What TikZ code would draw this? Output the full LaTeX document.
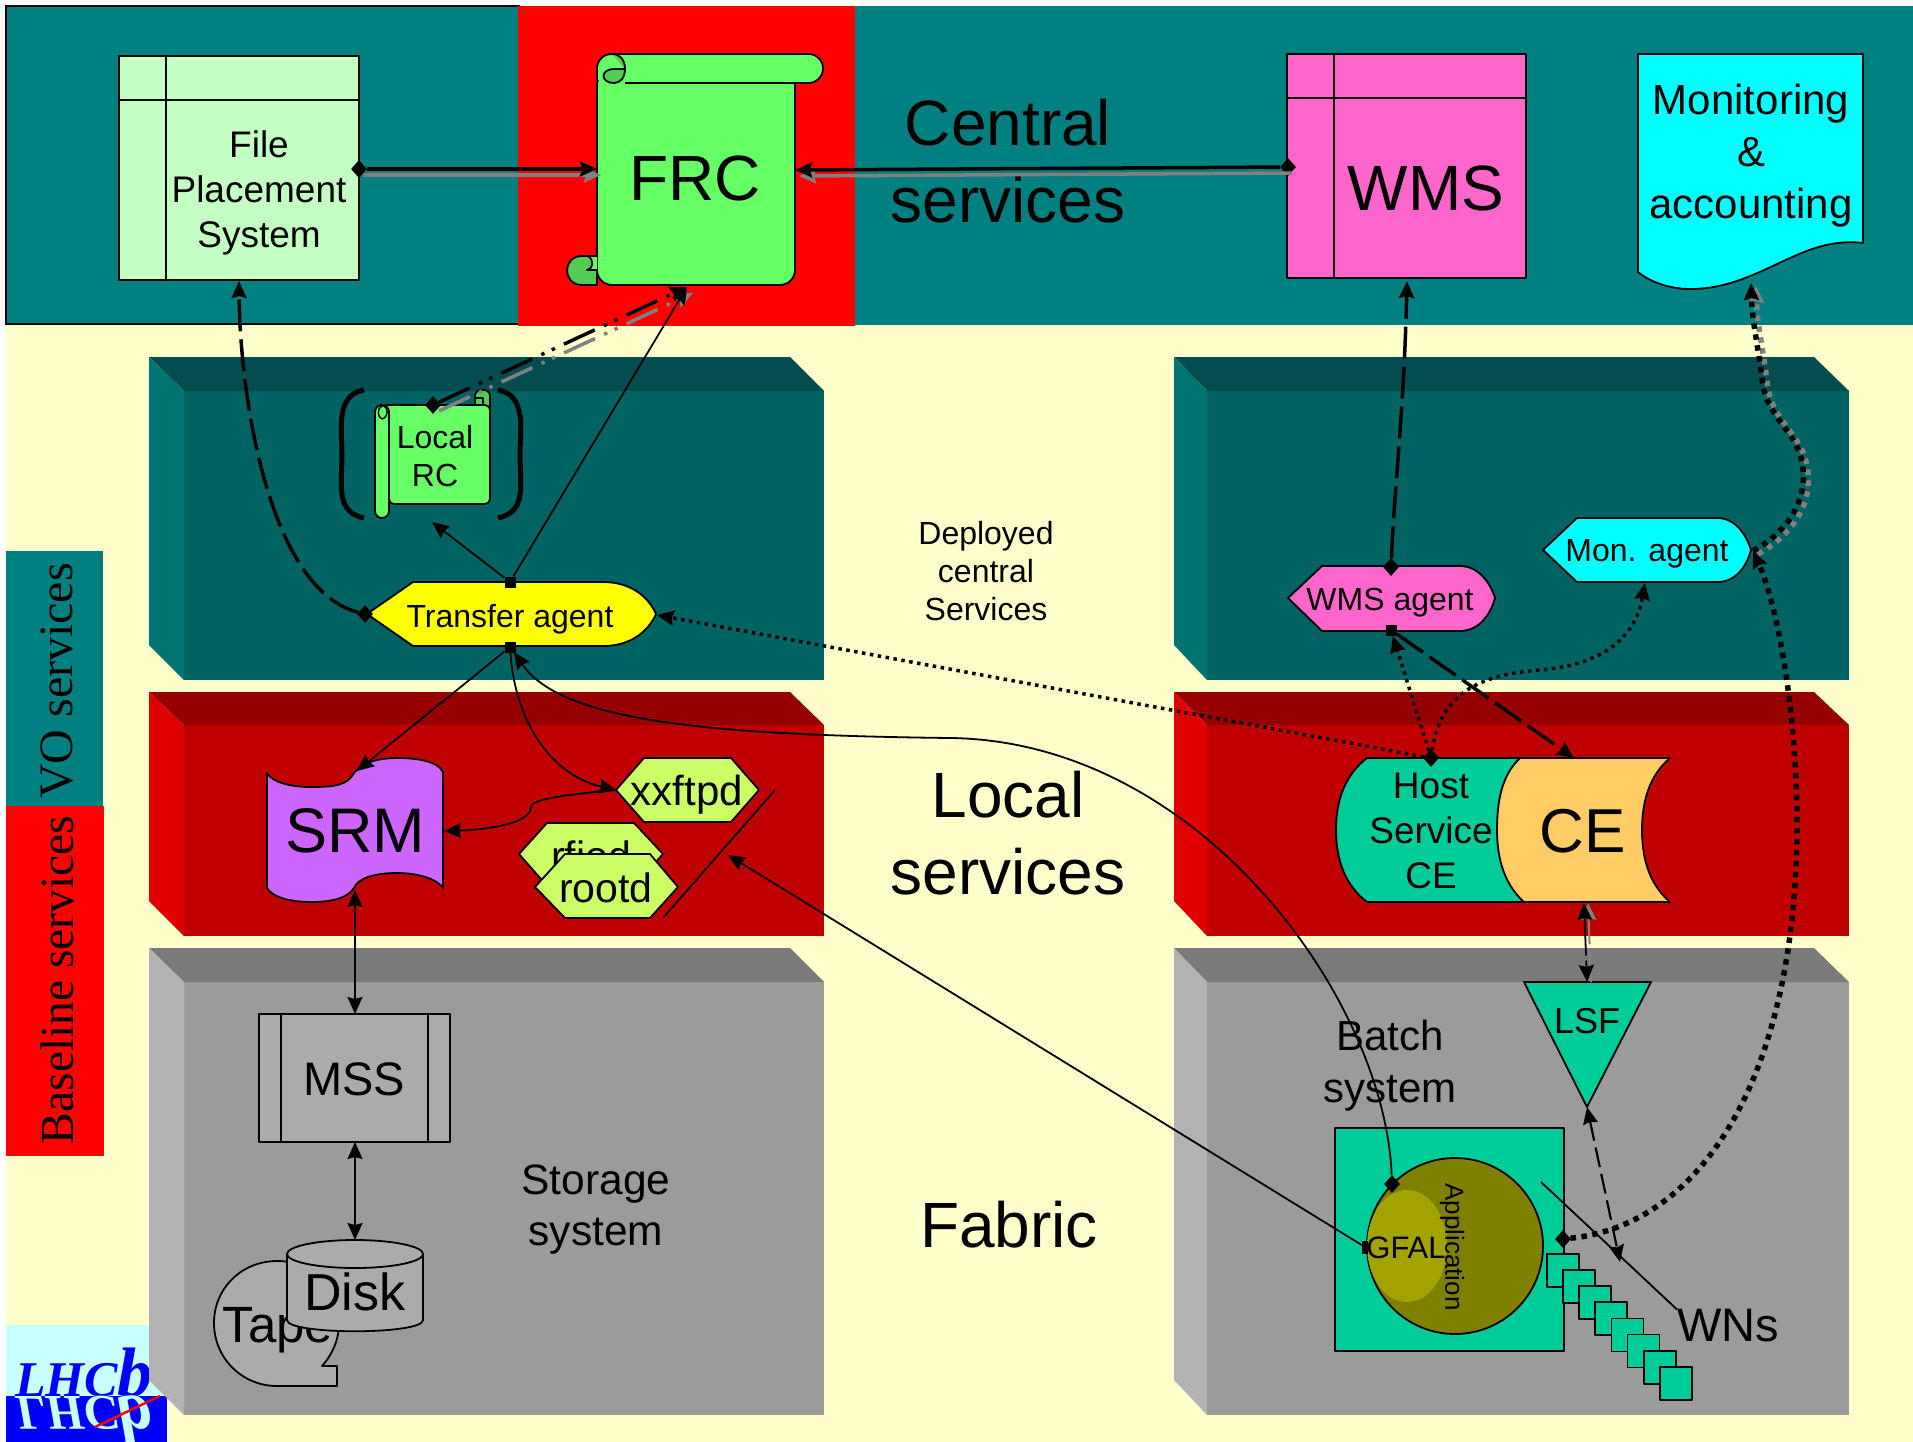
\documentclass[tikz,border=0pt]{standalone}
\usepackage{fontspec}
\setmainfont{Liberation Sans}
\newfontfamily\timesface{Liberation Serif}
\usetikzlibrary{arrows.meta, calc, shapes.geometric}
\definecolor{paper}{HTML}{FFFFCC}
\definecolor{teal0}{HTML}{008080}
\definecolor{tealf}{HTML}{006363}
\definecolor{tealt}{HTML}{034D50}
\definecolor{teals}{HTML}{007373}
\definecolor{redf}{HTML}{C00000}
\definecolor{redt}{HTML}{960000}
\definecolor{reds}{HTML}{E00000}
\definecolor{red0}{HTML}{FF0000}
\definecolor{blue0}{HTML}{0000FF}
\definecolor{cyan0}{HTML}{00FFFF}
\definecolor{yellow0}{HTML}{FFFF00}
\definecolor{greyf}{HTML}{9B9B9B}
\definecolor{greyt}{HTML}{7A7A7A}
\definecolor{greys}{HTML}{B2B2B2}
\definecolor{pale}{HTML}{C4FFC4}
\definecolor{scrollg}{HTML}{66FF66}
\definecolor{scrolld}{HTML}{52CC52}
\definecolor{pink}{HTML}{FF66CC}
\definecolor{mauve}{HTML}{CC66FF}
\definecolor{lime}{HTML}{CCFF66}
\definecolor{jade}{HTML}{00CC99}
\definecolor{peach}{HTML}{FFCC66}
\definecolor{stock}{HTML}{ABABAB}
\definecolor{oliv}{HTML}{808000}
\definecolor{olivl}{HTML}{A3A300}
\definecolor{logoc}{HTML}{C8FFFF}
\begin{document}
\begin{tikzpicture}[x=1pt, y=-1pt,
  box/.style={draw=black, line width=1.8pt, line join=round},
  txt/.style n args={2}{font=\fontsize{#1}{#2}\selectfont, align=center, inner sep=0pt},
  thin link/.style={line width=1.8pt},
  bold link/.style={line width=3.5pt},
  shade link/.style={line width=3.5pt, draw=gray},
  long dash/.style={dash pattern=on 32pt off 8pt},
  short dash/.style={dash pattern=on 20pt off 7pt},
  dot dash/.style={dash pattern=on 34pt off 10pt on 3.5pt off 8pt on 3.5pt off 10pt},
  fine dots/.style={dash pattern=on 3.5pt off 4.5pt},
  big dots/.style={dash pattern=on 5.5pt off 5.5pt},
  tip/.style={-{Stealth[length=17pt,width=15pt,inset=2pt]}},
  both tip/.style={{Stealth[length=17pt,width=15pt,inset=2pt]}-{Stealth[length=17pt,width=15pt,inset=2pt]}},
  gem/.style={diamond, aspect=1, fill=black, inner sep=0pt, minimum width=16pt, minimum height=18pt},
  cube/.style={rectangle, fill=black, inner sep=0pt, minimum size=11pt},
  spot/.style={inner sep=0pt, minimum size=0pt}]
\useasboundingbox (0,0) rectangle (1913,1442);
\fill[white] (0,0) rectangle (1913,1442);
\fill[paper] (6,6) rectangle (1913,1442);

\fill[logoc] (6,1325) rectangle (167,1396);
\fill[blue0] (6,1396) rectangle (167,1442);
\node[anchor=base, text=blue0, inner sep=0pt](lhcbtop) at (84,1396) {\timesface\bfseries\itshape\fontsize{50}{50}\selectfont LHC\fontsize{70}{70}\selectfont b};
\node[anchor=base, text=logoc, inner sep=0pt](lhcbdown) at (84,1396) {\scalebox{1}[-1]{\timesface\bfseries\itshape\fontsize{50}{50}\selectfont LHC\fontsize{70}{70}\selectfont b}};
\coordinate (sweepa) at (95,1427);
\coordinate (sweepb) at (160,1396);
\draw[red0, line width=2.5pt] (sweepa) -- (sweepb);

\fill[teal0] (855,6) rectangle (1913,325);
\fill[teal0, draw=black, line width=1.8pt] (6,6) rectangle (519,324);
\fill[red0] (518,6) rectangle (855,326);
\fill[teal0] (6,551) rectangle (103,806);
\fill[red0] (6,806) rectangle (104,1156);
\node[rotate=90, txt={48}{50}](vo) at (57,681) {\timesface VO services};
\node[rotate=90, txt={47.5}{50}](base) at (57,980) {\timesface Baseline services};

\foreach \xa/\xb/\xc/\xd in {149/184/790/824,1174/1207/1814/1849}{
  \foreach \ya/\yb/\yc/\cf/\ct/\cs in {357/391/680/tealf/tealt/teals, 692/725/936/redf/redt/reds, 948/982/1415/greyf/greyt/greys}{
    \fill[fill=\cf] (\xb,\yb) rectangle (\xd,\yc);
    \fill[fill=\ct] (\xa,\ya) -- (\xc,\ya) -- (\xd,\yb) -- (\xb,\yb) -- cycle;
    \fill[fill=\cs] (\xa,\ya) -- (\xb,\yb) -- (\xb,\yc) -- (\xa,{\yc-35}) -- cycle;
  }
}

\draw[box, fill=pale] (119,56) rectangle (359,280);
\draw[box] (166,56) -- (166,280);
\draw[box] (119,100) -- (359,100);
\node[txt={37}{45}](fps) at (259,193) {File\\Placement\\System};

\draw[box, fill=scrollg, rounded corners=15pt] (597,285) -- (597,70) -- (795,70) -- (795,285) -- cycle;
\draw[box, fill=scrollg, rounded corners=14.5pt] (625,83) -- (823,83) -- (823,54) -- (597,54) -- (597,80);
\draw[box, fill=scrolld] (625,69) -- (614,69) .. controls (600,69) and (600,83) .. (614,83) .. controls (620,83) and (625,78) .. (625,69) .. controls (625,60) and (620,54) .. (612,54);
\draw[box, fill=scrolld] (597,256) -- (582,256) .. controls (562,256) and (562,285) .. (582,285) -- (597,285) -- cycle;
\draw[box, fill=scrollg] (597,256) -- (588,256) .. controls (594,260) and (594,268) .. (587,270) -- (597,270);
\node[txt={64}{70}](frc) at (695,178) {FRC};

\draw[box, fill=pink] (1287,54) rectangle (1526,278);
\draw[box] (1334,54) -- (1334,278);
\draw[box] (1287,98) -- (1526,98);
\node[txt={64}{70}](wms) at (1426,188) {WMS};

\draw[box, fill=cyan0] (1638,54) -- (1863,54) -- (1863,243) .. controls (1800,235) and (1760,289) .. (1690,289) .. controls (1670,289) and (1650,282) .. (1638,272) -- cycle;
\node[txt={42}{52}](mon) at (1751,156) {Monitoring\\\&\\accounting};

\node[txt={64}{77}](central) at (1008,161) {Central\\services};
\node[txt={64}{77}](local) at (1008,833) {Local\\services};
\node[txt={64}{70}](fabric) at (1009,1225) {Fabric};
\node[txt={32}{38}](deployed) at (986,571) {Deployed\\central\\Services};
\node[txt={42.5}{51}](storage) at (596,1210) {Storage\\system};

\draw[black, line width=5pt, line cap=butt] (364,390) .. controls (335,395) and (342,430) .. (342,454) .. controls (342,485) and (335,512) .. (364,518);
\draw[black, line width=5pt, line cap=butt] (498,390) .. controls (527,395) and (520,430) .. (520,454) .. controls (520,485) and (527,512) .. (498,518);
\draw[box, fill=scrolld, rounded corners=6pt] (475,410) -- (475,390) -- (490,390) -- (490,420) -- cycle;
\draw[box, line width=1.4pt] (475,398) -- (483,398) -- (483,405);
\draw[box, fill=scrollg, rounded corners=5pt] (382,405) -- (490,405) -- (490,504) -- (389,504) -- (389,420) -- cycle;
\draw[box, fill=scrollg, rounded corners=7pt] (375,405) -- (389,405) -- (389,518) -- (375,518) -- cycle;
\draw[box, line width=1.4pt] (382,419) .. controls (389,417) and (389,406) .. (382,406) .. controls (377,408) and (377,417) .. (382,419);
\node[txt={32}{38}](lrc) at (435,456) {Local\\RC};

\draw[box, fill=yellow0] (367,614) -- (413,582) -- (603,582) .. controls (630,582) and (648,596) .. (656,614) .. controls (648,632) and (630,646) .. (603,646) -- (413,646) -- cycle;
\node[txt={32}{38}](agent) at (510,619) {Transfer agent};
\draw[box, fill=pink] (1288,598) -- (1322,566) -- (1460,566) .. controls (1478,566) and (1490,582) .. (1495,598) .. controls (1490,616) and (1478,631) .. (1460,631) -- (1322,631) -- cycle;
\node[txt={32}{38}](wmsagent) at (1390,603) {WMS agent};
\draw[box, fill=cyan0] (1543,550) -- (1577,518) -- (1717,518) .. controls (1735,518) and (1746,534) .. (1751,550) .. controls (1746,568) and (1735,582) .. (1717,582) -- (1577,582) -- cycle;
\node[txt={32}{38}](monagent) at (1647,554) {Mon. agent};

\draw[box, fill=mauve] (267,773) .. controls (272,782) and (290,787) .. (311,787) .. controls (335,787) and (348,785) .. (354,773) .. controls (362,762) and (380,758) .. (397,758) .. controls (420,758) and (438,762) .. (443,772) -- (443,888) .. controls (438,880) and (420,873) .. (397,873) .. controls (375,873) and (358,878) .. (354,888) .. controls (348,897) and (335,902) .. (311,902) .. controls (290,902) and (272,897) .. (267,888) -- cycle;
\node[txt={63}{70}](srm) at (355,831) {SRM};

\draw[box, fill=lime] (616,790) -- (644,758) -- (731,758) -- (759,790) -- (731,822) -- (644,822) -- cycle;
\node[txt={42}{50}](xxftpd) at (687,795) {xxftpd};
\draw[box, fill=lime] (519,854) -- (547,823) -- (634,823) -- (663,854) -- (634,886) -- (547,886) -- cycle;
\node[txt={41}{50}](rfiod) at (591,856) {rfiod};
\draw[box, fill=lime] (535,887) -- (565,854) -- (650,854) -- (678,887) -- (650,918) -- (565,918) -- cycle;
\node[txt={41}{50}](rootd) at (606,888) {rootd};
\coordinate (slasha) at (775,790);
\coordinate (slashb) at (663,918);
\coordinate (slashm) at (728,855);
\draw[thin link] (slasha) -- (slashb);

\draw[box, fill=stock] (259,1014) rectangle (450,1142);
\draw[box] (281,1014) -- (281,1142);
\draw[box] (428,1014) -- (428,1142);
\node[txt={47}{52}](mss) at (354,1079) {MSS};

\draw[box, fill=stock] (322,1366) -- (337,1366) -- (337,1386) -- (277,1386) .. controls (242,1386) and (214,1358) .. (214,1323) .. controls (214,1288) and (242,1261) .. (277,1261) .. controls (312,1261) and (339,1288) .. (339,1323) .. controls (339,1340) and (332,1355) .. (322,1366) -- cycle;
\node[txt={51}{56}](tape) at (278,1330) {Tape};
\draw[box, fill=stock] (287,1254) -- (287,1320) .. controls (287,1335) and (423,1335) .. (423,1320) -- (423,1254) -- cycle;
\draw[box, fill=stock] (355,1254) ellipse (68pt and 14pt);
\node[txt={52}{56}](disk) at (355,1292) {Disk};

\draw[box, fill=jade] (1367,758) .. controls (1345,775) and (1336,800) .. (1336,830) .. controls (1336,860) and (1345,885) .. (1367,902) -- (1524,902) -- (1524,758) -- cycle;
\draw[box, fill=peach] (1520,758) -- (1670,758) .. controls (1650,775) and (1642,800) .. (1642,830) .. controls (1642,860) and (1650,885) .. (1670,902) -- (1524,902) .. controls (1505,885) and (1497,860) .. (1497,830) .. controls (1497,800) and (1502,775) .. (1520,758) -- cycle;
\node[txt={37}{45}](host) at (1431,831) {Host\\Service\\CE};
\node[txt={62}{70}](ce) at (1583,831) {CE};

\draw[box, fill=jade] (1524,982) -- (1651,982) -- (1587,1107) -- cycle;
\node[txt={36}{42}](lsf) at (1587,1021) {LSF};
\node[txt={42}{52}](batch) at (1390,1066) {Batch\\system};

\draw[box, fill=jade] (1335,1128) rectangle (1564,1351);
\draw[box, fill=oliv] (1455,1246) ellipse (88pt and 88pt);
\fill[olivl] (1407,1246) ellipse (40pt and 56pt);
\node[txt={31}{36}](gfal) at (1406,1248) {GFAL};
\node[rotate=-90, txt={26}{30}](app) at (1452,1247) {Application};
\foreach \k in {0,...,7}{
  \draw[box, fill=jade] ({1547+16.1*\k},{1254+16.1*\k}) rectangle ++(32,33);
}
\coordinate (wnline) at (1541,1182);
\node[txt={47}{50}](wns) at (1728,1326) {WNs};
\draw[thin link] (wnline) -- (wns.north west);

\node[gem](fpsE) at (359,169) {};
\coordinate (fpsS) at (239,281);
\coordinate (frcW) at (597,169);
\coordinate (frcE) at (795,170);
\coordinate (frcS) at (687,287);
\node[gem](wmsW) at (1288,167) {};
\coordinate (wmsS) at (1407,281);
\coordinate (monS) at (1751,283);
\node[gem](lrcN) at (433,405) {};
\coordinate (lrcS) at (432,522);
\node[cube](agentN) at (510,582) {};
\node[cube](agentS) at (510,647) {};
\coordinate (agentT) at (514,652);
\node[gem](agentW) at (365,614) {};
\coordinate (agentE) at (657,615);
\node[gem](wagentN) at (1391,567) {};
\node[cube](wagentS) at (1391,630) {};
\coordinate (magentS) at (1645,583);
\coordinate (magentE) at (1753,551);
\coordinate (srmN) at (357,771);
\coordinate (srmE) at (444,831);
\coordinate (srmS) at (355,890);
\coordinate (xxW) at (616,790);
\coordinate (mssN) at (355,1014);
\coordinate (mssS) at (355,1142);
\coordinate (diskN) at (355,1240);
\node[gem](hostN) at (1431,758) {};
\coordinate (ceN) at (1574,758);
\coordinate (ceS) at (1584,903);
\coordinate (lsfN) at (1587,982);
\coordinate (lsfS) at (1587,1107);
\coordinate (wnN) at (1620,1262);
\node[gem](appE) at (1563,1239) {};
\node[gem](appN) at (1392,1184) {};
\node[cube, minimum width=6pt, minimum height=13pt](gfalW) at (1365,1247) {};

\draw[shade link, tip] ($(fpsE)+(4,6)$) -- ($(frcW)+(4,6)$);
\draw[bold link, tip] (fpsE) -- (frcW);
\draw[shade link, tip] ($(wmsW)+(4,6)$) -- ($(frcE)+(4,6)$);
\draw[bold link, tip] (wmsW) -- (frcE);
\draw[shade link, tip, dot dash] ($(lrcN)+(6,6)$) -- ($(frcS)+(6,6)$);
\draw[bold link, tip, dot dash] (lrcN) -- (frcS);
\draw[thin link, tip] (agentN) -- (frcS);
\draw[thin link, tip] (agentN) -- (lrcS);
\draw[bold link, tip, long dash] (agentW) .. controls (270,590) and (240,400) .. (fpsS);
\draw[bold link, tip, long dash] (wagentN) .. controls (1395,480) and (1404,410) .. (wmsS);
\draw[line width=5.5pt, draw=gray, tip, big dots] ($(magentE)+(5,3)$) .. controls (1795,533) and (1811,503) .. (1808,473) .. controls (1805,433) and (1770,423) .. (1767,381) .. controls (1762,343) and (1757,323) .. ($(monS)+(5,3)$);
\draw[line width=5.5pt, tip, big dots] (magentE) .. controls (1790,530) and (1806,500) .. (1803,470) .. controls (1800,430) and (1765,420) .. (1762,378) .. controls (1757,340) and (1752,320) .. (monS);
\draw[line width=5.5pt, tip, big dots] (appE) .. controls (1700,1225) and (1795,1080) .. (1797,830) .. controls (1797,700) and (1775,600) .. (magentE);
\draw[line width=3.5pt, tip, fine dots] (hostN) -- (agentE);
\draw[line width=3.5pt, tip, fine dots] (hostN) -- (wagentS);
\draw[line width=3.5pt, tip, fine dots] (hostN) .. controls (1440,700) and (1470,675) .. (1540,670) .. controls (1600,665) and (1635,640) .. (magentS);
\draw[bold link, tip, long dash] (wagentS) -- (ceN);
\draw[line width=2pt, draw=gray, tip, dash pattern=on 32pt off 6pt] ($(lsfN)+(4,0)$) -- ($(ceS)+(4,0)$);
\draw[thin link, both tip, dash pattern=on 38pt off 5pt] (ceS) -- (lsfN);
\draw[line width=2.2pt, both tip, short dash] (lsfS) -- (wnN);
\draw[thin link, tip] (agentS) -- (srmN);
\draw[thin link, tip] (agentS) .. controls (515,720) and (550,775) .. (xxW);
\draw[thin link, tip] (appN) .. controls (1385,1000) and (1200,741) .. (950,738) .. controls (700,735) and (560,720) .. (agentT);
\draw[thin link, tip] (xxW) .. controls (560,795) and (531,800) .. (531,807) .. controls (531,825) and (480,830) .. (srmE);
\draw[thin link, both tip] (srmS) -- (mssN);
\draw[thin link, both tip] (mssS) -- (diskN);
\draw[thin link, tip] (gfalW) -- (slashm);
\end{tikzpicture}
\end{document}
